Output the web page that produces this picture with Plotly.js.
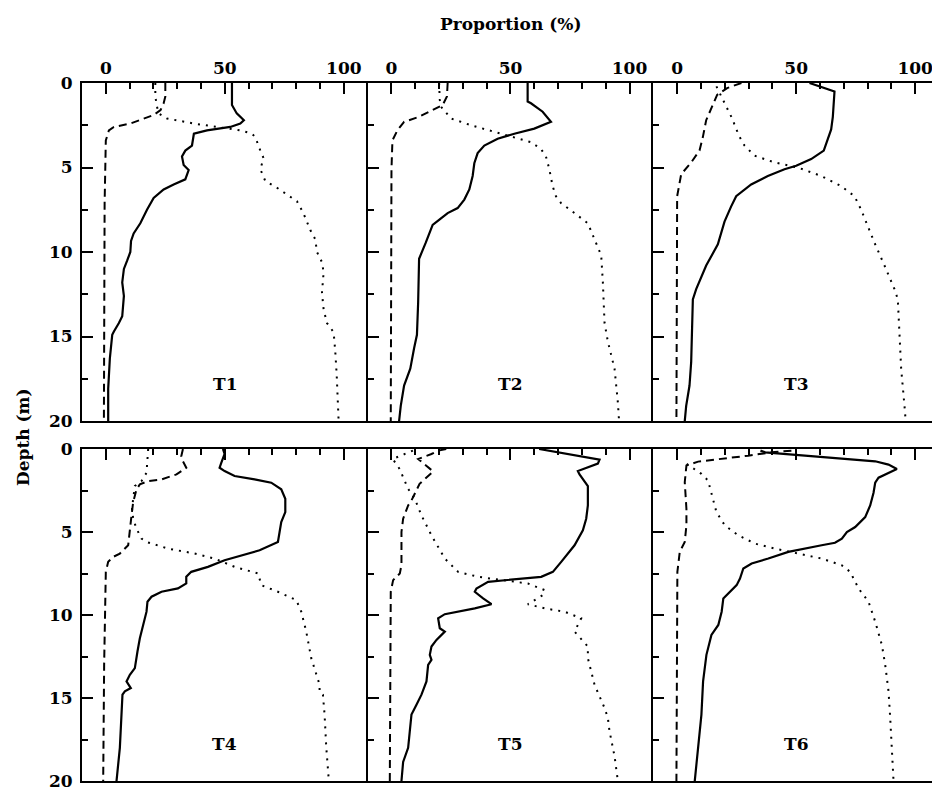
<!DOCTYPE html>
<html>
<head>
<meta charset="utf-8">
<script src="https://cdn.plot.ly/plotly-3.0.1.min.js"></script>
<style>
html, body { margin: 0; padding: 0; overflow: hidden; background: #fff; }
#chart { width: 945px; height: 792px; }
</style>
</head>
<body>
<div id="chart"></div>
<script>
// ---- Data: proportion (%) vs depth (m) for each station ----
const panelNames = ["T1", "T2", "T3", "T4", "T5", "T6"];
const xTickVals = [0, 50, 100];
const yTickVals = [0, 5, 10, 15, 20];

// T1
const T1_solid_pct   = [53,53,55,58,56.5,52.3,42.5,37,36.2,33.4,32,32.7,34.8,33.4,28.5,24.3,20.1,17.3,14.5,11.7,10.6,10.3,9.0,7.6,6.9,7.6,6.9,5.5,3.4,2.7,1.7,1.0,1.0];
const T1_solid_depth = [0,1.3,1.8,2.2,2.4,2.6,2.8,3.0,3.7,4.0,4.35,4.85,5.15,5.7,6.0,6.3,6.8,7.5,8.3,8.9,9.35,10.0,10.5,11.0,11.8,12.6,13.8,14.2,14.7,14.9,16.3,18.1,20];
const T1_dash_pct    = [25,25,24.3,23,20,10.3,3.4,1.3,0,-0.5,-0.8];
const T1_dash_depth  = [0,0.8,1.2,1.6,1.9,2.4,2.6,2.8,3.4,7.1,20];
const T1_dot_pct     = [20.8,20.8,21.5,22.2,25.7,37,46.7,56.5,61.4,62.8,64.9,66.3,64.9,67,71.9,80.3,83,85.9,88,88.7,90.8,91.5,90.8,91.5,92.9,95.7,96.4,97,97.8];
const T1_dot_depth   = [0,0.8,1.4,1.8,2.1,2.4,2.6,2.8,3.0,3.2,4.0,4.45,5.1,5.8,6.2,7.0,7.7,8.7,9.25,10.0,10.6,11.2,12.4,13.4,14.2,14.75,15.9,17.3,20];

// T2
const T2_solid_pct   = [57.2,57.2,58.6,63.5,67,60,51.6,44.6,39,36.2,34.8,34.1,32.7,30.6,27.8,23.6,20,17.3,14.4,11.6,11.2,10.7,9.5,7.9,5.3,3.9,3.2];
const T2_solid_depth = [0,1.1,1.2,1.7,2.3,2.7,3.0,3.3,3.7,4.15,4.75,5.5,6.3,6.9,7.4,7.7,8.1,8.4,9.45,10.4,13.0,14.9,15.7,16.9,17.9,19.1,20];
const T2_dash_pct    = [23.6,23.3,21.5,17.3,11.6,5.3,2.5,0.4,0,-0.3];
const T2_dash_depth  = [0,0.8,1.3,1.6,2.0,2.3,2.8,3.4,5.1,20];
const T2_dot_pct     = [20,20.3,20.8,25,33.4,43.2,51.6,58.6,62.8,64.9,66.3,67.7,69.1,71.2,76.9,82.5,85.3,88.1,88.8,89.5,90.9,93.7,95.1,95.6];
const T2_dot_depth   = [0,1.0,1.4,2.1,2.5,2.9,3.2,3.5,3.9,4.35,5.1,6.1,6.7,7.1,7.7,8.3,9.25,10.2,11.8,14.2,15.3,16.9,18.9,20];

// T3
const T3_solid_pct   = [55.6,60.5,66.1,65.4,64.7,61.6,56.3,50,45.1,38.1,31.1,24.8,22.7,19.9,17.1,12.2,8.0,6.6,6.3,5.9,5.2,3.8,3.2];
const T3_solid_depth = [0,0.25,0.5,2.0,2.75,4.0,4.5,4.9,5.1,5.5,6.0,6.7,7.3,8.2,9.55,10.8,12.2,12.8,14.9,16.5,17.9,19.1,20];
const T3_dash_pct    = [27,21,16.8,14.5,12.2,10.8,9.4,5.9,1.7,0,-0.3];
const T3_dash_depth  = [0,0.3,0.7,1.4,2.2,3.2,4.0,4.7,5.4,6.7,20];
const T3_dot_pct     = [16.5,19.6,23.1,25.9,28.3,32.5,40.9,50.7,60.5,68.9,74.5,77.3,80.1,82.9,87.1,91.3,92.7,93.4,94.1,95.5,96];
const T3_dot_depth   = [0.2,1.1,2.1,3.1,3.7,4.3,4.7,5.0,5.5,6.1,6.7,7.5,8.5,9.45,10.8,12.2,12.8,14.9,16.9,19.1,20];

// T4
const T4_solid_pct   = [49.2,49.9,48.5,47.8,49.9,54.1,62.5,69.5,73.7,75.4,75.4,73.7,73,72.3,64.6,56.9,49.9,42.9,35.9,33.8,33.8,30.3,23.4,19.2,17.5,17.1,15.7,14.3,13.3,12.2,10.1,8.7,10.5,8.0,7.0,6.6,5.9,4.5];
const T4_solid_depth = [0,0.3,0.84,1.13,1.33,1.63,1.83,2.03,2.43,3.0,3.8,4.4,5.0,5.6,6.1,6.4,6.7,7.1,7.4,7.7,8.1,8.4,8.6,8.9,9.2,9.8,10.6,11.4,12.2,13.2,13.6,14.0,14.4,14.6,14.8,16.0,18.0,20];
const T4_dash_pct    = [32.4,31.7,32.4,33.8,29.7,23.4,17.8,14.3,12.9,11.5,10.8,10.1,9.4,5.9,3.1,1.0,0,-0.7,-1.1];
const T4_dash_depth  = [0,0.44,0.74,1.13,1.53,1.83,1.93,2.13,2.43,3.2,4.0,4.8,5.8,6.3,6.5,6.8,7.4,13.0,20];
const T4_dot_pct     = [17.8,17.5,17.1,15,12.2,11.5,11.0,11.5,12.9,15,17.1,26.2,37.3,45.7,54.1,64,65.3,72.3,80,82.1,84.2,86.3,88.4,89.8,89.8,91.2,91.9,92.6,93.7];
const T4_dot_depth   = [0,0.64,1.43,1.93,2.23,3.0,3.6,4.2,4.8,5.4,5.6,6.0,6.3,6.6,7.1,7.5,8.2,8.6,9.1,9.8,11.0,12.6,13.6,14.2,14.6,14.8,16.0,17.95,20];

// T5
const T5_solid_pct   = [62,87.4,86.7,78.3,79,82.5,82.5,81.8,80.4,76.9,71.3,67.8,62.9,49,40.6,35.7,35,38.5,42,35,22.4,19.6,20.3,22.4,18.9,16.8,16.1,16.8,15.4,14.7,12.6,10.5,8.4,7.7,7.0,4.9,4.2];
const T5_solid_depth = [0,0.64,0.88,1.33,1.53,2.23,3.4,4.2,4.9,5.8,6.8,7.4,7.7,7.9,8.0,8.4,8.6,9.0,9.35,9.6,9.95,10.2,10.8,11.0,11.5,11.9,12.4,12.7,13.0,14.0,14.8,15.4,16.0,17.0,18.0,18.85,20];
const T5_dash_pct    = [23,19.6,16.8,11.2,17.5,11.8,8.4,7.0,4.9,4.2,4.2,3.5,0.7,-0.3,-0.7];
const T5_dash_depth  = [0,0.1,0.3,0.6,1.35,2.1,3.1,3.4,4.2,5.0,7.0,7.5,7.9,8.6,20];
const T5_dot_pct     = [9,4,0.5,2,3.4,7,9.8,12.6,16.8,22.4,28,36.4,46.2,57.3,64.3,63.6,57.3,64.3,72.7,79.7,76.9,82.5,82.5,85.3,89.5,90.9,91.6,93.7,95.1];
const T5_dot_depth   = [0.1,0.4,0.6,0.9,1.2,2.4,3.0,4.0,5.2,6.6,7.4,7.7,7.9,8.1,8.5,8.8,9.35,9.6,9.8,10.2,11.0,11.9,12.6,14.2,15.6,16.2,17.0,18.5,20];

// T6
const T6_solid_pct   = [35,37,83.2,88.8,92.3,88.8,84.6,83.2,82.5,81.1,79,74.8,71.3,69.2,66.3,60.7,46.7,38.3,31.3,27.8,26.4,25,22.2,19.4,18.7,17.3,14.4,12.3,10.9,10.2,8.8,7.4];
const T6_solid_depth = [0.1,0.2,0.74,0.94,1.2,1.43,1.73,2.03,2.63,3.4,4.1,4.7,5.0,5.4,5.65,5.8,6.2,6.6,6.9,7.2,7.8,8.2,8.6,9.0,9.8,10.6,11.2,12.4,14.0,16.0,18.0,20];
const T6_dash_pct    = [48,39.6,29.8,18.6,8.8,3.9,3.2,3.9,3.9,3.2,1.1,0.1,-0.3];
const T6_dash_depth  = [0.1,0.2,0.4,0.6,0.76,1.0,2.0,3.6,4.6,5.6,6.2,7.4,20];
const T6_dot_pct     = [4,10.2,13,14.4,16.5,20,25.7,32.7,41.1,50.9,60.7,69.1,72.7,76.2,80.4,83.2,86,87.4,88.8,89.5,90.2,90.9];
const T6_dot_depth   = [0.9,1.5,1.9,2.6,3.8,4.6,5.2,5.7,6.0,6.3,6.6,7.0,7.4,8.4,9.2,10.4,11.8,13.0,14.6,16.2,18.0,20];

const seriesByPanel = [
  [[T1_solid_pct, T1_solid_depth], [T1_dash_pct, T1_dash_depth], [T1_dot_pct, T1_dot_depth]],
  [[T2_solid_pct, T2_solid_depth], [T2_dash_pct, T2_dash_depth], [T2_dot_pct, T2_dot_depth]],
  [[T3_solid_pct, T3_solid_depth], [T3_dash_pct, T3_dash_depth], [T3_dot_pct, T3_dot_depth]],
  [[T4_solid_pct, T4_solid_depth], [T4_dash_pct, T4_dash_depth], [T4_dot_pct, T4_dot_depth]],
  [[T5_solid_pct, T5_solid_depth], [T5_dash_pct, T5_dash_depth], [T5_dot_pct, T5_dot_depth]],
  [[T6_solid_pct, T6_solid_depth], [T6_dash_pct, T6_dash_depth], [T6_dot_pct, T6_dot_depth]]
];

// ---- Styling ----
const FONT = "DejaVu Serif";
const lineStyles = [
  {color: "#000", width: 2.2, dash: "solid"},
  {color: "#000", width: 2, dash: "8px,5px"},
  {color: "#000", width: 2, dash: "2px,6px"}
];

const traces = [];
seriesByPanel.forEach((panel, p) => {
  const sfx = p === 0 ? "" : String(p + 1);
  panel.forEach((s, k) => {
    traces.push({
      type: "scatter", mode: "lines",
      x: s[0], y: s[1],
      xaxis: "x" + sfx, yaxis: "y" + sfx,
      line: lineStyles[k],
      hoverinfo: "skip", showlegend: false
    });
  });
});

const W = 945, H = 792;
const mL = 82, mR = 6, mT = 83, mB = 11;
const plotH = H - mT - mB;
const topBottomPx = 421, botTopPx = 449;
const topDomain = [(H - mB - topBottomPx) / plotH, 1];
const botDomain = [0, (H - mB - botTopPx) / plotH];
const colDomains = [[0, 1/3], [1/3, 2/3], [2/3, 1]];
const TICKFONT = {family: FONT, size: 17, weight: "bold", color: "#000"};

const layout = {
  width: W, height: H,
  margin: {l: mL, r: mR, t: mT, b: mB},
  paper_bgcolor: "#fff", plot_bgcolor: "#fff",
  showlegend: false,
  hovermode: false,
  font: {family: FONT, color: "#000", size: 17},
  annotations: []
};

for (let p = 0; p < 6; p++) {
  const sfx = p === 0 ? "" : String(p + 1);
  const row = p < 3 ? 0 : 1;
  const col = p % 3;
  layout["xaxis" + sfx] = {
    domain: colDomains[col],
    anchor: "y" + sfx,
    side: "top",
    range: [-10, 110],
    tickmode: "array",
    tickvals: xTickVals,
    showticklabels: row === 0,
    tickfont: TICKFONT,
    ticks: "inside", ticklen: 11, tickwidth: 2, tickcolor: "#000",
    minor: {dtick: 10, tick0: 0, ticks: "inside", ticklen: 6, tickwidth: 2, tickcolor: "#000", showgrid: false},
    showline: true, linewidth: 2, linecolor: "#000", mirror: true,
    showgrid: false, zeroline: false, fixedrange: true
  };
  layout["yaxis" + sfx] = {
    domain: row === 0 ? topDomain : botDomain,
    anchor: "x" + sfx,
    range: [20, 0],
    tickmode: "array",
    tickvals: yTickVals,
    showticklabels: col === 0,
    ticklabeloverflow: "allow",
    tickfont: TICKFONT,
    ticklabelstandoff: 4,
    ticks: "inside", ticklen: 11, tickwidth: 2, tickcolor: "#000",
    minor: {dtick: 2.5, tick0: 0, ticks: "inside", ticklen: 6, tickwidth: 2, tickcolor: "#000", showgrid: false},
    showline: true, linewidth: 2, linecolor: "#000", mirror: false,
    showgrid: false, zeroline: false, fixedrange: true
  };
  layout.annotations.push({
    xref: "x" + sfx, yref: "y" + sfx,
    x: 50, y: 17.8,
    text: panelNames[p],
    showarrow: false,
    font: {family: FONT, size: 17, weight: "bold", color: "#000"},
    xanchor: "center", yanchor: "middle"
  });
}

// Shared axis titles
layout.annotations.push({
  xref: "paper", yref: "paper",
  x: 0.5, y: 1 + (mT - 24) / plotH,
  text: "Proportion (%)",
  showarrow: false,
  font: {family: FONT, size: 17, weight: "bold", color: "#000"},
  xanchor: "center", yanchor: "middle"
});
layout.annotations.push({
  xref: "paper", yref: "paper",
  x: (23 - mL) / (W - mL - mR), y: (H - mB - 437) / plotH,
  text: "Depth (m)",
  textangle: -90,
  showarrow: false,
  font: {family: FONT, size: 17, weight: "bold", color: "#000"},
  xanchor: "center", yanchor: "middle"
});

Plotly.newPlot("chart", traces, layout, {displayModeBar: false, staticPlot: true});
</script>
</body>
</html>
